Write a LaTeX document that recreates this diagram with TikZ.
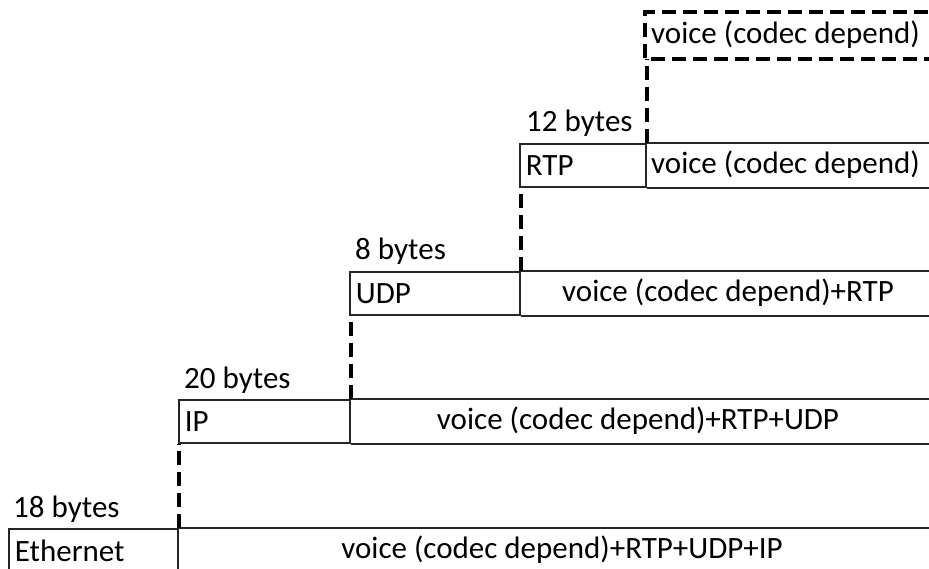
\documentclass[tikz,border=0pt]{standalone}
\usepackage{fontspec}
\setmainfont{Carlito}
\usetikzlibrary{positioning}

\tikzset{
  cell/.style={draw=black!85, line width=1.8pt, minimum height=43pt, inner sep=0pt,
    anchor=north west, font=\fontsize{31}{36}\selectfont},
  hdr/.style={cell, text width=#1, inner xsep=6pt, align=left},
  pay/.style={cell, draw=none, minimum width=#1},
  rule/.style={draw=black!85, line width=1.8pt},
  txt/.style={inner sep=0pt, font=\fontsize{31}{36}\selectfont},
  size/.style={txt, anchor=base west},
  link/.style={draw=black, line width=3.6pt, dash pattern=on 14pt off 7pt},
}

\begin{document}
\begin{tikzpicture}[x=1pt,y=-1pt]
\useasboundingbox (0,0) rectangle (929,569);
\clip (0,0) rectangle (929,569);

% ethernet frame
\node[hdr=157pt] (eth) at (8,528) {Ethernet};
\node[pay=770pt] (ethpay) at (eth.north east) {};
\node[txt] (ethtxt) at (562,549.5) {voice (codec depend)+RTP+UDP+IP};
\node[size] (ethsize) at ([xshift=5pt,yshift=11pt]eth.north west) {18 bytes};

% ip packet
\node[hdr=159pt] (ip) at (178,399) {IP};
\node[pay=598pt] (ippay) at (ip.north east) {};
\node[txt] (iptxt) at (638,420.5) {voice (codec depend)+RTP+UDP};
\node[size] (ipsize) at ([xshift=6pt,yshift=11pt]ip.north west) {20 bytes};

% udp datagram
\node[hdr=158pt] (udp) at (349,271) {UDP};
\node[pay=428pt] (udppay) at (udp.north east) {};
\node[txt] (udptxt) at (728,292.5) {voice (codec depend)+RTP};
\node[size] (udpsize) at ([xshift=6pt,yshift=11pt]udp.north west) {8 bytes};

% rtp packet
\node[hdr=114pt] (rtp) at (519,143) {RTP};
\node[pay=302pt] (rtppay) at (rtp.north east) {};
\node[txt, anchor=west] (rtptxt) at (651,164.5) {voice (codec depend)};
\node[size] (rtpsize) at ([xshift=7pt,yshift=11pt]rtp.north west) {12 bytes};

% payload cells run off to the right, so only their top and bottom are ruled
\foreach \p in {ethpay,ippay,udppay,rtppay}{
  \draw[rule] (\p.north west) -- (\p.north east);
  \draw[rule] (\p.south west) -- (\p.south east);
}

% voice payload
\node[pay=302pt, minimum height=45pt] (codec) at (645,12) {};
\node[txt, anchor=west] (codectxt) at (651,34.5) {voice (codec depend)};
\draw[link] (codec.north east) -- (codec.north west) -- (codec.south west) -- (codec.south east);

% encapsulation steps
\draw[link] (eth.north east) -- (eth.north east |- ip.south west);
\draw[link] (ip.north east) -- (ip.north east |- udp.south west);
\draw[link] (udp.north east) -- (udp.north east |- rtp.south west);
\draw[link] (rtp.north east) -- (rtp.north east |- codec.south west);
\end{tikzpicture}
\end{document}
